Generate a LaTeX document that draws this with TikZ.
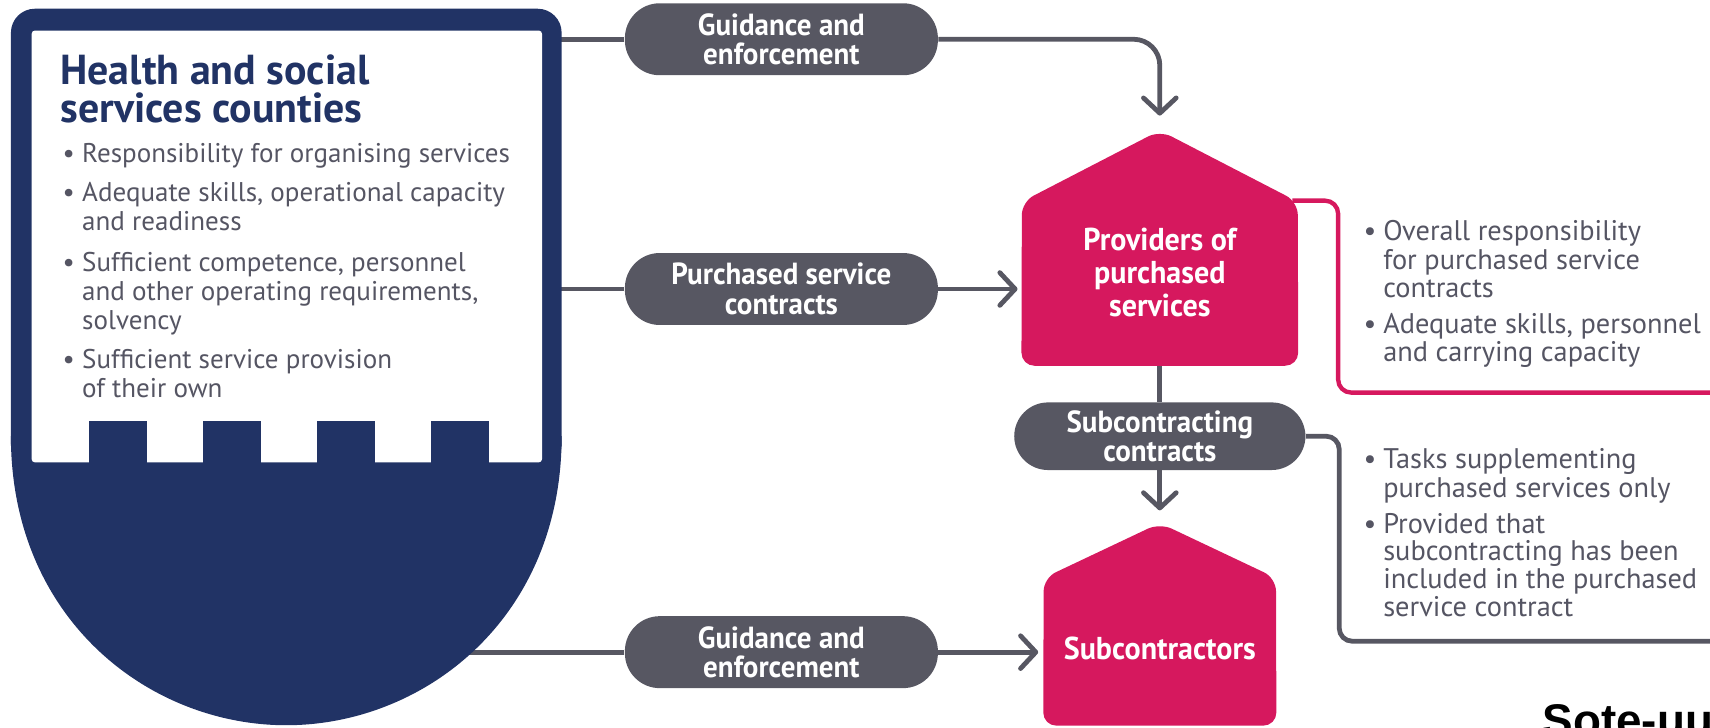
\documentclass[tikz,border=0pt]{standalone}
\usepackage{fontspec}
\setmainfont{PT Sans}
\newfontfamily\condb[FakeStretch=0.95]{PT Sans}
\newfontfamily\heavy{Liberation Sans}
\usetikzlibrary{arrows.meta}
\definecolor{navy}{HTML}{213365}
\definecolor{pillgrey}{HTML}{575762}
\definecolor{txtgrey}{HTML}{555563}
\definecolor{pinkc}{HTML}{D6185E}
\newcommand\bul{\makebox[9pt][l]{\textbullet}}
\newcommand\ind{\hspace*{9pt}}
\tikzset{
  conn/.style={draw=pillgrey, line width=2.2pt},
  arr/.style={-{Straight Barb[length=7pt,width=15pt,round]}},
  pill/.style={fill=pillgrey, rounded corners=16pt, minimum width=143.5pt,
    minimum height=33pt, text=white, align=center, inner sep=0pt,
    font=\condb\bfseries\fontsize{14}{13.5}\selectfont},
  housetxt/.style={text=white, align=center, inner sep=0pt,
    font=\condb\bfseries\fontsize{14.5}{15}\selectfont},
  lefttxt/.style={anchor=north west, text=txtgrey, align=left, inner sep=0pt,
    font=\fontsize{12.4}{13.25}\selectfont},
  righttxt/.style={anchor=north west, text=txtgrey, align=left, inner sep=0pt,
    font=\fontsize{13}{13}\selectfont},
}
\begin{document}
\begin{tikzpicture}[x=0.5pt,y=-0.5pt]
\useasboundingbox (0,0) rectangle (1568,667);
\clip (0,0) rectangle (1568,667);
% anchor coordinates on the shield
\coordinate (shTop) at (500,36);
\coordinate (shMid) at (500,265);
\coordinate (shBot) at (380,598);
% pills
\node[pill] (p1) at (716.5,36) {Guidance and\\enforcement};
\node[pill] (p2) at (716.5,265) {Purchased service\\contracts};
\node[pill] (p3) at (716.5,598) {Guidance and\\enforcement};
\node[pill, minimum width=133.5pt, minimum height=31pt, rounded corners=15.5pt] (p4) at (1063.5,400) {Subcontracting\\contracts};
% house frames
\node[minimum width=126.5pt, minimum height=107.5pt, inner sep=0pt] (prov) at (1063.5,227.5) {};
\node[minimum width=106.5pt, minimum height=92.5pt, inner sep=0pt] (sub) at (1063.5,572.5) {};
\coordinate (provin) at (1063.5,106);
\coordinate (provL) at (933,265);
\coordinate (subin) at (1063.5,468);
\coordinate (subL) at (952,598);
% connectors
\draw[conn] (shTop) -- (p1.west);
\draw[conn] (shMid) -- (p2.west);
\draw[conn] (shBot) -- (p3.west);
\draw[conn, arr, rounded corners=12pt] (p1.east) -| (provin);
\draw[conn, arr] (p2.east) -- (provL);
\draw[conn, arr] (p3.east) -- (subL);
\draw[conn] (prov.south) -- (p4.north);
\draw[conn, arr] (p4.south) -- (subin);
\draw[conn, rounded corners=6pt] (p4.east) -- (1228,400) -- (1228,588) -- (1600,588);
\draw[draw=pinkc, line width=2pt, rounded corners=6pt] (1185,184) -- (1227,184) -- (1227,360) -- (1600,360);
% shield
\fill[navy, rounded corners=11pt] (10,8) rectangle (515,430);
\fill[navy] (10,400) .. controls (10,568) and (137,665) .. (262.5,665)
  .. controls (388,665) and (515,568) .. (515,400) -- cycle;
\fill[white, rounded corners=1.5pt] (29,28) rectangle (497,424);
\foreach \a in {82,186.5,291,395.5}{\fill[navy] (\a,386) rectangle ++(53,40);}
% houses
\fill[pinkc, rounded corners=6pt] (prov.south west) -- (937,185) -- (prov.north) -- (1190,185) -- (prov.south east) -- cycle;
\fill[pinkc, rounded corners=6pt] (sub.south west) -- (957,530) -- (sub.north) -- (1170,530) -- (sub.south east) -- cycle;
\node[housetxt] (provtxt) at (1063.5,250) {Providers of\\purchased\\services};
\node[housetxt] (subtxt) at (1063.5,595) {Subcontractors};
% shield texts
\node[anchor=north west, text=navy, align=left, inner sep=0pt,
  font=\bfseries\fontsize{19.2}{17.5}\selectfont] (title) at (55,50) {Health and social\\services counties};
\node[lefttxt] (b1) at (57,131) {\bul Responsibility for organising services};
\node[lefttxt] (b2) at (57,167) {\bul Adequate skills, operational capacity\\\ind and readiness};
\node[lefttxt] (b3) at (57,231) {\bul Sufficient competence, personnel\\\ind and other operating requirements,\\\ind solvency};
\node[lefttxt] (b4) at (57,320) {\bul Sufficient service provision\\\ind of their own};
% right texts
\node[righttxt] (r1) at (1250,202) {\bul Overall responsibility\\\ind for purchased service\\\ind contracts};
\node[righttxt] (r2) at (1250,287) {\bul Adequate skills, personnel\\\ind and carrying capacity};
\node[righttxt] (r3) at (1250,411) {\bul Tasks supplementing\\\ind purchased services only};
\node[righttxt, font=\fontsize{13}{12.75}\selectfont] (r4) at (1250,470) {\bul Provided that\\\ind subcontracting has been\\\ind included in the purchased\\\ind service contract};
\node[anchor=base west, inner sep=0pt, font=\heavy\bfseries\fontsize{21}{24}\selectfont] (sote) at (1414,675) {Sote-uud};
\end{tikzpicture}
\end{document}
